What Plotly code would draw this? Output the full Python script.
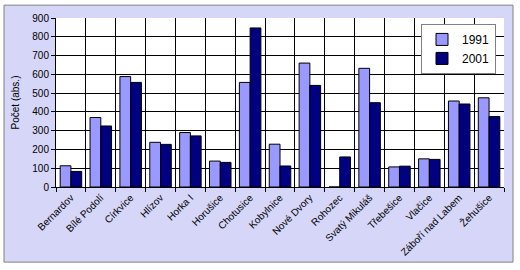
import plotly.graph_objects as go

categories = ["Bernardov", "Bílé Podolí", "Církvice", "Hlízov", "Horka I", "Horušice",
              "Chotusice", "Kobylnice", "Nové Dvory", "Rohozec", "Svatý Mikuláš",
              "Třebešice", "Vlačice", "Záboří nad Labem", "Žehušice"]
values_1991 = [113, 370, 588, 238, 290, 138, 557, 228, 660, 0, 632, 107, 150, 458, 475]
values_2001 = [83, 325, 557, 227, 272, 131, 847, 112, 541, 160, 449, 111, 147, 442, 375]
y_ticks = [0, 100, 200, 300, 400, 500, 600, 700, 800, 900]

FONT = "Arial, Liberation Sans, sans-serif"

fig = go.Figure()
fig.add_trace(go.Bar(x=categories, y=values_1991, name="1991",
                     marker=dict(color="#9999FF", line=dict(color="black", width=1))))
fig.add_trace(go.Bar(x=categories, y=values_2001, name="2001",
                     marker=dict(color="#000080", line=dict(color="black", width=1))))

# plot geometry (px): left 56, right 504, top 17, bottom 188
L, R, T, B = 56, 504, 17, 188
W, H = R - L, B - T
def px_x(p):
    return (p - L) / W
def px_y(p):
    return (B - p) / H

fig.add_shape(type="rect", xref="paper", yref="paper",
              x0=px_x(4), x1=px_x(513), y0=px_y(264), y1=px_y(4),
              fillcolor="#D6D6F8", line=dict(color="#808080", width=1), layer="below")
fig.add_shape(type="rect", xref="paper", yref="paper",
              x0=0, x1=1, y0=0, y1=1,
              fillcolor="white", line=dict(width=0), layer="below")

fig.update_layout(
    width=520, height=270,
    margin=dict(l=L, r=520 - R, t=T, b=270 - B),
    paper_bgcolor="white",
    plot_bgcolor="rgba(0,0,0,0)",
    barmode="group", bargap=0.28, bargroupgap=0,
    font=dict(family=FONT, size=10, color="black"),
    showlegend=True,
    legend=dict(x=px_x(421), y=px_y(23), xanchor="left", yanchor="top",
                bgcolor="white", bordercolor="#808080", borderwidth=1,
                font=dict(size=12, family=FONT), itemwidth=30),
)
fig.update_xaxes(type="category", tickson="boundaries", showgrid=True,
                 gridcolor="black", gridwidth=1, ticks="outside", ticklen=4,
                 tickcolor="black", showline=True, linecolor="black", linewidth=1,
                 tickangle=-45, tickfont=dict(size=10, family=FONT))
fig.update_yaxes(range=[0, 900], tickvals=y_ticks, showgrid=True, gridcolor="black",
                 gridwidth=1, ticks="outside", ticklen=4, tickcolor="black",
                 showline=True, linecolor="black", linewidth=1, zeroline=False,
                 tickfont=dict(size=10, family=FONT),
                 title=dict(text="Počet (abs.)", font=dict(size=10, family=FONT), standoff=10))

fig.write_html("out.html")
